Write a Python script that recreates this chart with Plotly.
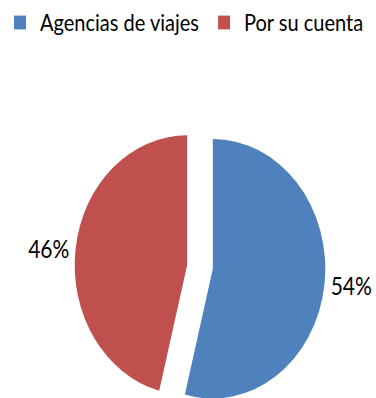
import plotly.graph_objects as go

# Travel arrangement shares
categories = ["Agencias de viajes", "Por su cuenta"]
shares = [54, 46]
colors = ["#4F81BD", "#C0504D"]

font_family = "Lato, 'Open Sans', sans-serif"

# The chart is laid out on a shorter canvas and then stretched vertically,
# giving the slightly tall, elliptical pie of the original export.
stretch = 1.1536
width, height = 376, 360

fig = go.Figure(
    go.Pie(
        labels=categories,
        values=shares,
        marker=dict(colors=colors, line=dict(width=0)),
        sort=False,
        direction="clockwise",
        rotation=0,
        pull=[0.115, 0.115],
        textinfo="percent",
        texttemplate="%{percent:.0%}",
        textposition="outside",
        textfont=dict(size=21, color="#000000", family=font_family),
        domain=dict(x=[0.1984, 0.8654], y=[0.0089, 0.7056]),
        showlegend=True,
    )
)

fig.update_layout(
    width=width,
    height=height,
    autosize=False,
    margin=dict(l=0, r=0, t=0, b=0, pad=0, autoexpand=False),
    paper_bgcolor="white",
    plot_bgcolor="white",
    font=dict(family=font_family, size=20, color="#000000"),
    legend=dict(
        orientation="h",
        x=0.0,
        y=1.0,
        xanchor="left",
        yanchor="top",
        font=dict(size=20, family=font_family, color="#000000"),
        itemwidth=30,
        tracegroupgap=0,
    ),
)

stretch_js = (
    "var gd = document.getElementById('{plot_id}');"
    "document.documentElement.style.overflow = 'hidden';"
    "document.body.style.overflow = 'hidden';"
    "gd.style.transformOrigin = '0 0';"
    "gd.style.transform = 'scaleY(%s)';" % stretch
)

fig.write_html("out.html", post_script=stretch_js)
